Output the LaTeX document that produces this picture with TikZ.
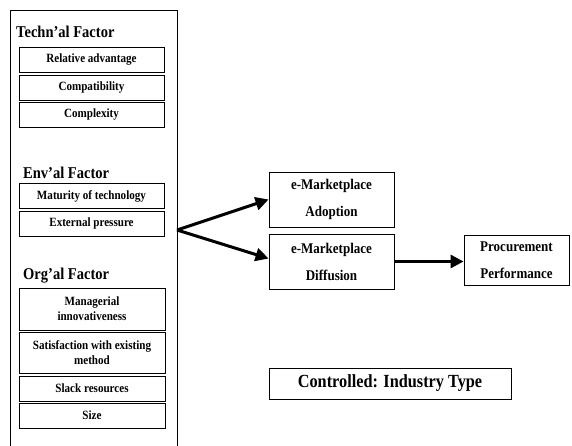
\documentclass[tikz,border=0pt]{standalone}
\usepackage{fontspec}
\setmainfont{Liberation Serif}
\newfontfamily\narrowserif[FakeStretch=0.88]{Liberation Serif}
\usetikzlibrary{arrows.meta}
\begin{document}
\begin{tikzpicture}[x=1pt, y=-1pt, line join=miter, font=\bfseries,
	item/.style={draw, line width=0.9pt, minimum width=145pt, minimum height=25pt, inner sep=1pt, align=center, font=\narrowserif\fontsize{12.6}{15}\selectfont\bfseries},
	head/.style={anchor=west, inner sep=0pt, font=\narrowserif\fontsize{16.5}{19}\selectfont\bfseries},
	stage/.style={draw, line width=0.9pt, align=center, inner sep=1pt, font=\narrowserif\fontsize{14.8}{27}\selectfont\bfseries},
	link/.style={line width=3pt, -{Triangle[length=13pt, width=13pt]}}]
	%Khung hình.
	\useasboundingbox (0,0) rectangle (572,446);
	\fill[white] (0,0) rectangle (572,446);
	%Khung các nhân tố.
	\node[draw, line width=1.1pt, anchor=north west, minimum width=167pt, minimum height=445pt, inner sep=0pt] (factors) at (9.5,10) {};
	\coordinate (split) at (177,230);
	%Nhân tố kỹ thuật.
	\node[head] (techn) at (16,32) {Techn’al Factor};
	\node[item] (advantage) at (91.5,59.5) {Relative advantage};
	\node[item] (compat) at (91.5,87.5) {Compatibility};
	\node[item] (complex) at (91.5,114.5) {Complexity};
	%Nhân tố môi trường.
	\node[head] (env) at (23,173) {Env’al Factor};
	\node[item] (maturity) at (91.5,196) {Maturity of technology};
	\node[item] (pressure) at (91.5,223.5) {External pressure};
	%Nhân tố tổ chức.
	\node[head] (org) at (23,276) {Org’al Factor};
	\node[item, minimum width=146pt, minimum height=42pt] (innov) at (92,309) {Managerial\\innovativeness};
	\node[item, minimum width=146pt, minimum height=41pt] (satisf) at (92,352.5) {Satisfaction with existing\\method};
	\node[item, minimum width=146pt] (slack) at (92,388.5) {Slack resources};
	\node[item, minimum width=146pt] (size) at (92,415.5) {Size};
	%Các giai đoạn.
	\node[stage, minimum width=125pt, minimum height=55pt] (adoption) at (331.5,199.5) {e-Marketplace\\Adoption};
	\node[stage, minimum width=125pt, minimum height=55pt] (diffusion) at (331.5,261.5) {e-Marketplace\\Diffusion};
	\node[stage, minimum width=105pt, minimum height=50pt] (perform) at (516.5,260) {Procurement\\Performance};
	\node[draw, line width=0.9pt, minimum width=242pt, minimum height=31pt, font=\narrowserif\fontsize{18.5}{21}\selectfont\bfseries] (control) at (390,383.5) {Controlled: Industry Type};
	%Mũi tên.
	\draw[link] (split) -- (adoption.west);
	\draw[link] (split) -- ([yshift=3pt]diffusion.west);
	\draw[link] (diffusion.east) -- (diffusion.east -| perform.west);
\end{tikzpicture}
\end{document}
